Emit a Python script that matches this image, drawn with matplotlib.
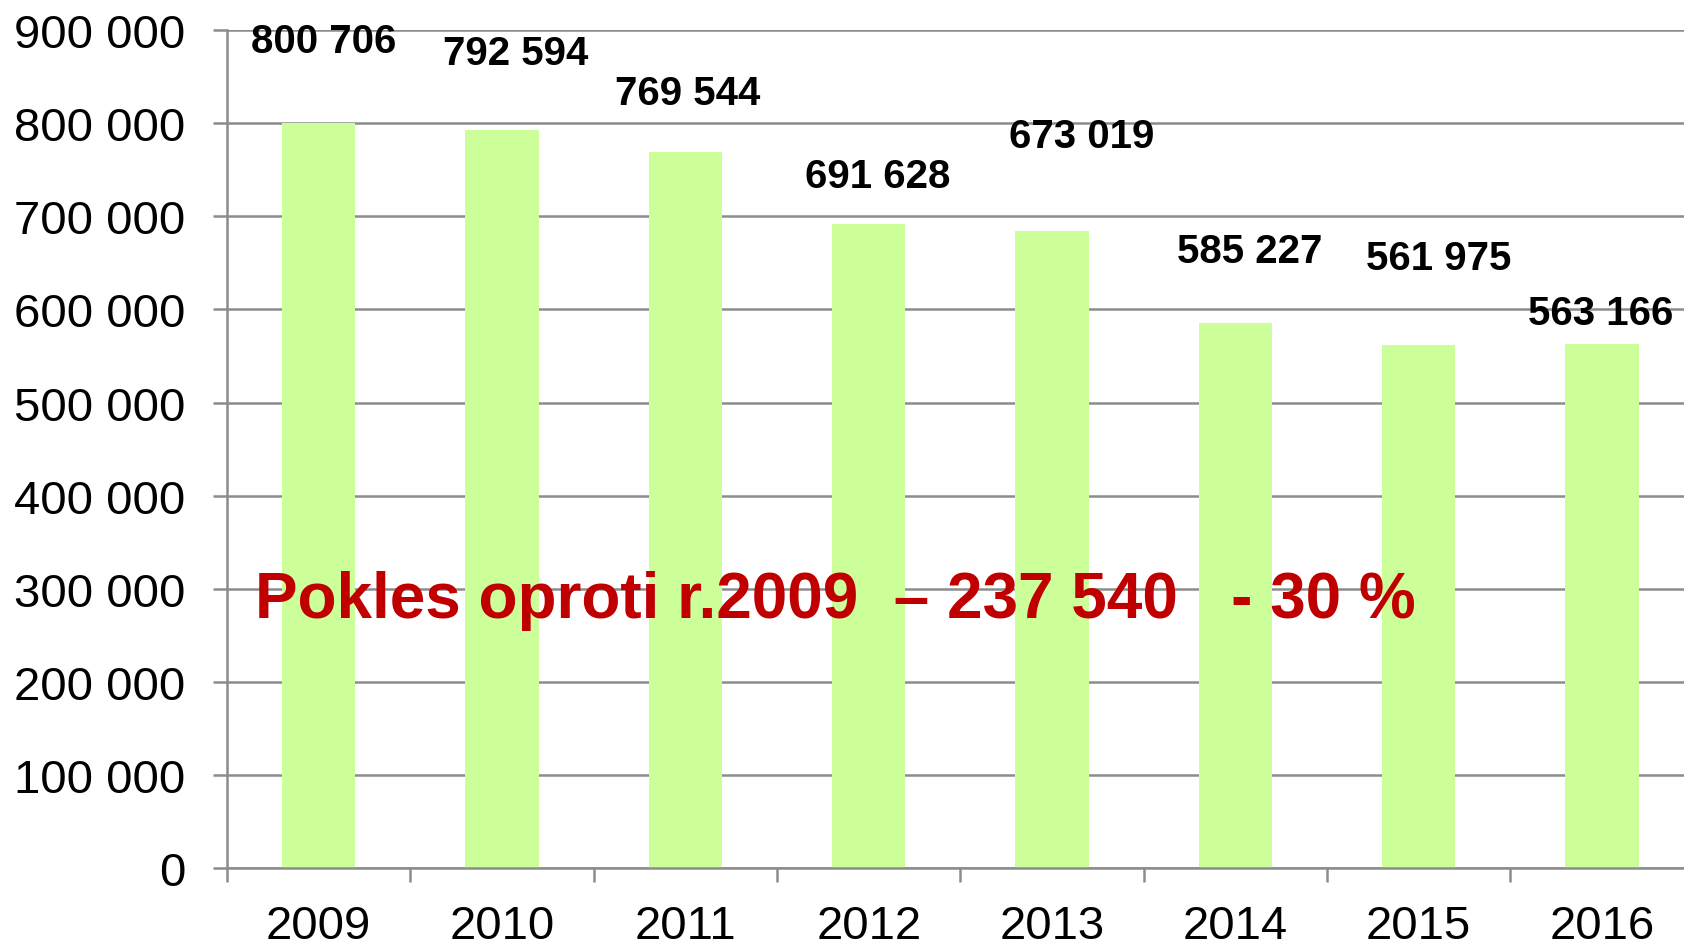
import matplotlib
matplotlib.use("Agg")
import matplotlib.pyplot as plt
import numpy as np
from matplotlib.ticker import FuncFormatter

plt.rcParams['font.family'] = ['Liberation Sans', 'DejaVu Sans']

# data
years = ['2009', '2010', '2011', '2012', '2013', '2014', '2015', '2016']
bar_values = [800706, 792594, 769544, 691628, 684000, 585227, 561975, 563166]
value_labels = ['800 706', '792 594', '769 544', '691 628', '673 019',
                '585 227', '561 975', '563 166']
note_text = 'Pokles oproti r.2009  \u2013 237 540   - 30 %'

# where the (hand-moved) value labels sit: x shift in categories, y in data units
label_dx = [0.03, 0.075, 0.01, 0.05, 0.16, 0.08, 0.11, -0.01]
label_y = [888000, 875000, 832000, 743000, 786000, 663000, 655000, 596000]

BAR_COLOR = '#CCFF99'
GRID_COLOR = '#8C8C8C'
NOTE_COLOR = '#C00000'

fig = plt.figure(figsize=(16.84, 9.45), dpi=100)
ax = fig.add_axes([0.1348, 0.0805, 0.871, 0.8865])

x = np.arange(len(years))
ax.bar(x, bar_values, width=0.4, color=BAR_COLOR, zorder=2)

ax.set_xlim(-0.5, len(years) - 0.5)
ax.set_ylim(0, 900000)
ax.set_yticks(np.arange(0, 900001, 100000))
ax.yaxis.set_major_formatter(FuncFormatter(lambda v, p: f'{int(v):,}'.replace(',', ' ')))
ax.grid(axis='y', color=GRID_COLOR, linewidth=1.8, zorder=1)

# category labels in the middle, tick marks on the boundaries
ax.set_xticks(x)
ax.set_xticklabels(years)
ax.set_xticks(np.arange(-0.5, len(years), 1), minor=True)
ax.tick_params(axis='x', which='major', length=0, pad=26, labelsize=34)
ax.tick_params(axis='x', which='minor', length=10, width=1.8, color=GRID_COLOR)
ax.tick_params(axis='y', length=10, width=1.8, color=GRID_COLOR, pad=20, labelsize=34)

for side in ['top', 'right']:
    ax.spines[side].set_visible(False)
for side in ['left', 'bottom']:
    ax.spines[side].set_color(GRID_COLOR)
    ax.spines[side].set_linewidth(1.8)

for i, txt in enumerate(value_labels):
    ax.text(x[i] + label_dx[i], label_y[i], txt, ha='center', va='center',
            fontsize=29, fontweight='bold', color='black', zorder=4)

ax.text(0.155 - 0.5, 270000, note_text, ha='left', va='baseline',
        fontsize=46, fontweight='bold', color=NOTE_COLOR, zorder=5)

fig.savefig('out.png', dpi=100)
